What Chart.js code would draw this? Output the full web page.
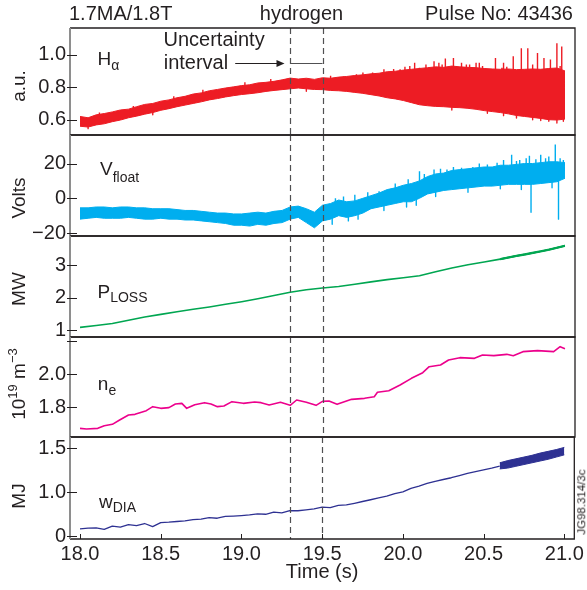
<!DOCTYPE html>
<html><head><meta charset="utf-8">
<script src="https://cdn.jsdelivr.net/npm/chart.js@4.4.1/dist/chart.umd.min.js"></script>
<style>
html,body{margin:0;padding:0;background:#fff;}
#wrap{position:relative;width:587px;height:590px;overflow:hidden;font-family:"Liberation Sans",Arial,sans-serif;color:#231f20;}
#wrap canvas{position:absolute;left:0;top:0;}
.t{position:absolute;white-space:nowrap;line-height:1;font-size:20px;}
.lab{position:absolute;white-space:nowrap;line-height:1;font-size:19px;}
.sb{position:relative;font-size:14px;}
.rot{position:absolute;white-space:nowrap;line-height:1;font-size:19px;transform:translate(-50%,-50%) rotate(-90deg);}
.rot sup{font-size:13px;line-height:0;position:relative;top:-1px;}
</style></head>
<body><div id="wrap">
<canvas id="c1" width="587" height="590"></canvas>
<canvas id="c2" width="587" height="590"></canvas>
<canvas id="c3" width="587" height="590"></canvas>
<canvas id="c4" width="587" height="590"></canvas>
<canvas id="c5" width="587" height="590"></canvas>

<div class="t" style="left:69px;top:3px;">1.7MA/1.8T</div>
<div class="t" style="left:301.5px;top:3px;transform:translateX(-50%);">hydrogen</div>
<div class="t" style="right:14px;top:3px;">Pulse No: 43436</div>

<div class="t" style="left:163.5px;top:29.4px;">Uncertainty</div>
<div class="t" style="left:163.7px;top:51.8px;">interval</div>

<div class="lab" style="left:97.5px;top:49.2px;">H<span class="sb" style="top:4.4px;">α</span></div>
<div class="lab" style="left:100px;top:158.9px;">V<span class="sb" style="top:6.7px;">float</span></div>
<div class="lab" style="left:97.5px;top:281.9px;">P<span class="sb" style="top:3.7px;">LOSS</span></div>
<div class="lab" style="left:97.8px;top:373.9px;">n<span class="sb" style="top:5px;">e</span></div>
<div class="lab" style="left:99px;top:491.6px;">w<span class="sb" style="top:4.3px;">DIA</span></div>

<div class="rot" style="left:18px;top:86px;">a.u.</div>
<div class="rot" style="left:18px;top:198px;">Volts</div>
<div class="rot" style="left:18px;top:289px;">MW</div>
<div class="rot" style="left:18px;top:384px;">10<sup>19</sup> m<sup>−3</sup></div>
<div class="rot" style="left:18px;top:496px;">MJ</div>
<div class="rot" style="left:582px;top:502px;font-size:11.5px;">JG98.314/3c</div>
</div>
<script>
// ---------- data ----------
const xTicks = [18.0, 18.5, 19.0, 19.5, 20.0, 20.5, 21.0];
const xLabels = ['18.0', '18.5', '19.0', '19.5', '20.0', '20.5', '21.0'];
const markTimes = [19.3, 19.5];           // dashed "uncertainty interval" lines
const arrowTimes = [18.96, 19.265];        // arrow of the "Uncertainty interval" note
const noteLevel = 0.948;                   // Hα units

const t05 = [18.00,18.05,18.10,18.15,18.20,18.25,18.30,18.35,18.40,18.45,18.50,18.55,18.60,18.65,18.70,18.75,18.80,18.85,18.90,18.95,
  19.00,19.05,19.10,19.15,19.20,19.25,19.30,19.35,19.40,19.45,19.50,19.55,19.60,19.65,19.70,19.75,19.80,19.85,19.90,19.95,
  20.00,20.05,20.10,20.15,20.20,20.25,20.30,20.35,20.40,20.45,20.50,20.55,20.60,20.65,20.70,20.75,20.80,20.85,20.90,20.95,21.00];

// H-alpha (a.u.) noisy band: upper / lower envelope + spikes
const haUpper = [.620,.612,.630,.638,.648,.660,.665,.680,.694,.700,.714,.722,.735,.744,.758,.765,.778,.786,.795,.802,
  .810,.815,.826,.830,.836,.845,.856,.850,.855,.848,.858,.855,.862,.866,.872,.876,.882,.886,.895,.898,
  .905,.910,.915,.920,.925,.922,.930,.925,.922,.920,.915,.912,.910,.912,.908,.910,.912,.910,.915,.918,.900];
const haLower = [.560,.555,.568,.575,.588,.598,.612,.622,.634,.644,.658,.668,.680,.690,.700,.710,.722,.730,.740,.748,
  .755,.760,.766,.774,.780,.785,.790,.795,.790,.786,.785,.780,.778,.774,.768,.762,.754,.746,.735,.728,
  .718,.705,.692,.686,.682,.680,.676,.674,.670,.664,.656,.650,.644,.636,.626,.620,.614,.608,.600,.598,.604];
const haSpikeT    = [18.12,18.33,18.58,18.76,19.02,19.18,19.55,19.63,19.71,19.75,19.81,19.88,19.94,19.98,20.01,20.04,20.07,20.10,20.14,20.19,20.22,20.24,20.26,20.31,20.36,20.39,
  20.41,20.45,20.47,20.49,20.57,20.61,20.62,20.64,20.68,20.73,20.77,20.80,20.83,20.87,20.91,20.95,20.97,20.98,
  18.05,18.45,19.40,20.30,20.52,20.62,20.70,20.80,20.85,20.90,20.95,20.99];
const haSpikeBase = [0.60,0.64,0.70,0.74,0.78,0.80,0.83,0.83,0.84,0.85,0.85,0.86,0.86,0.87,0.87,0.87,0.88,0.88,0.88,0.88,0.88,0.88,0.88,0.88,0.88,0.88,
  0.88,0.88,0.88,0.88,0.88,0.88,0.88,0.88,0.88,0.88,0.88,0.88,0.88,0.88,0.88,0.88,0.88,0.88,
  0.58,0.66,0.80,0.70,0.68,0.66,0.65,0.64,0.63,0.62,0.62,0.62];
const haSpikeTip  = [0.645,0.685,0.745,0.785,0.83,0.85,0.87,0.865,0.88,0.89,0.89,0.91,0.912,0.91,0.925,0.93,0.95,0.92,0.94,0.96,0.95,0.94,0.977,0.98,0.95,0.94,
  0.94,0.95,0.95,0.93,0.98,0.92,0.95,0.925,0.99,1.04,1.04,0.94,1.01,0.98,0.97,1.07,0.93,1.05,
  0.545,0.63,0.775,0.66,0.64,0.625,0.61,0.60,0.595,0.59,0.58,0.59];

// V float (Volts) noisy band
const vfUpper = [-5.5,-5.5,-5.0,-5.0,-5.5,-5.0,-5.0,-5.5,-5.5,-6.0, -6.0,-6.0,-6.5,-7.0,-7.0,-7.5,-8.0,-8.5,-8.5,-9.0,
  -9.0,-8.5,-8.0,-8.5,-7.5,-7.0,-5.0,-4.5,-6.0,-8.0, -4.0,-3.0,-1.0,-2.0,-1.5,0.0,1.5,3.0,5.0,6.0,
  7.5,8.5,10.0,12.5,14.0,14.5,16.0,16.5,17.0,17.5, 18.0,18.0,19.0,19.0,19.5,20.0,20.0,20.5,21.0,21.0,20.5];
const vfLower = [-12.0,-11.5,-11.0,-11.5,-11.5,-11.5,-11.0,-11.5,-12.0,-12.0, -11.5,-12.0,-12.0,-12.5,-12.5,-13.0,-13.5,-14.0,-14.5,-15.5,
  -15.5,-16.0,-15.0,-15.5,-14.5,-14.0,-12.0,-11.0,-14.0,-17.0, -13.0,-12.0,-10.0,-11.0,-10.0,-8.5,-6.0,-5.0,-4.0,-3.0,
  -2.0,-2.0,0.0,2.5,3.5,4.5,5.0,5.5,6.0,6.5, 7.0,7.0,7.5,8.0,8.0,8.0,8.0,8.5,9.0,9.5,11.5];
const vfSpikeT    = [19.58,19.63,19.70,19.78,19.85,19.95,20.03,20.10,20.13,20.19,20.23,20.27,20.31,20.36,20.43,20.47,20.52,20.58,20.62,20.67,
  20.70,20.72,20.76,20.78,20.82,20.85,20.88,20.90,20.94,20.97,20.99,
  19.56,19.66,19.72,19.88,20.02,20.08,20.20,20.40,20.60,20.73,20.92,20.79,20.96];
const vfSpikeBase = [-4,-3,-2,-1,0,3,5,8,9,10,11,12,13,14,14,15,15,15,16,16,
  16,16,16,16,16,16,16,16,16,16,16,
  -10,-8,-7,-3,0,1,5,8,10,10,12,12,12];
const vfSpikeTip  = [0,1,2,3.5,4,8.5,11,15.5,14,16.5,17,16.5,18,17.5,18,20,19.5,20.5,22,25,
  21.5,22,23,24.5,22.5,25,23,24,31,23,22,
  -15,-13,-12,-7,-5,-4,1,3.5,5.5,5,6,-8,-12];

// P LOSS (MW)
const pT = [18.0,18.1,18.2,18.3,18.4,18.5,18.6,18.7,18.8,18.9,19.0,19.1,19.2,19.3,19.4,19.5,19.6,19.7,19.8,19.9,
  20.0,20.1,20.2,20.3,20.4,20.5,20.6,20.7,20.8,20.9,21.0];
const pV = [1.08,1.14,1.20,1.30,1.40,1.48,1.56,1.64,1.71,1.79,1.87,1.96,2.06,2.16,2.24,2.29,2.34,2.41,2.48,2.55,
  2.61,2.67,2.79,2.91,3.01,3.09,3.18,3.28,3.37,3.47,3.59];
const bandT = [20.60,20.65,20.70,20.75,20.80,20.85,20.90,20.95,21.00];
const pUpper = [3.20,3.25,3.30,3.345,3.395,3.44,3.49,3.55,3.61];
const pLower = [3.16,3.21,3.26,3.30,3.35,3.40,3.45,3.51,3.57];

// n_e (10^19 m^-3)
const neT = [18.00,18.04,18.11,18.15,18.20,18.245,18.30,18.34,18.41,18.45,18.50,18.55,18.59,18.63,18.66,18.71,18.77,18.81,18.85,18.89,
  18.94,19.01,19.08,19.12,19.17,19.24,19.30,19.34,19.40,19.46,19.50,19.54,19.59,19.68,19.76,19.82,19.84,19.91,19.98,20.05,
  20.12,20.16,20.23,20.28,20.35,20.44,20.49,20.56,20.64,20.68,20.74,20.83,20.93,20.97,21.00];
const neV = [1.674,1.670,1.674,1.690,1.698,1.724,1.754,1.758,1.780,1.804,1.794,1.798,1.820,1.824,1.794,1.816,1.828,1.820,1.804,1.808,
  1.834,1.824,1.832,1.828,1.814,1.830,1.812,1.844,1.830,1.812,1.836,1.838,1.818,1.848,1.854,1.864,1.890,1.900,1.934,1.974,
  2.008,2.044,2.054,2.084,2.098,2.094,2.114,2.110,2.118,2.110,2.134,2.140,2.134,2.164,2.152];

// W DIA (MJ)
const wT = [18.00,18.05,18.10,18.15,18.20,18.25,18.30,18.35,18.40,18.45,18.50,18.55,18.60,18.65,18.70,18.75,18.80,18.85,18.90,18.95,
  19.00,19.05,19.10,19.15,19.20,19.25,19.30,19.35,19.40,19.45,19.50,19.55,19.60,19.65,19.70,19.75,19.80,19.85,19.90,19.95,
  20.00,20.05,20.10,20.15,20.20,20.25,20.30,20.35,20.40,20.45,20.50,20.55,20.60];
const wV = [.585,.592,.596,.578,.615,.605,.632,.622,.645,.610,.655,.660,.668,.676,.688,.695,.712,.705,.725,.730,
  .735,.742,.755,.750,.775,.765,.792,.790,.800,.812,.832,.825,.850,.856,.875,.895,.915,.935,.955,.985,
  1.005,1.045,1.070,1.100,1.125,1.145,1.165,1.190,1.215,1.235,1.255,1.275,1.298];
const wUpper = [1.335,1.36,1.38,1.40,1.42,1.445,1.465,1.485,1.51];
const wLower = [1.265,1.275,1.295,1.315,1.335,1.355,1.375,1.40,1.425];

// y axes: tick values + labels
const haTicks = [0.6, 0.8, 1.0], haLabels = ['0.6', '0.8', '1.0'];
const vfTicks = [-20, 0, 20],    vfLabels = ['\u221220', '0', '20'];
const pTicks  = [1, 2, 3],       pLabels  = ['1', '2', '3'];
const neTicks = [1.8, 2.0, 2.2], neLabels = ['1.8', '2.0', ''];
const wTicks  = [0.5, 1.0, 1.5], wLabels  = ['0', '1.0', '1.5'];

// ---------- helpers ----------
const INK = '#231f20';
const FONT = { family: '"Liberation Sans", Arial, sans-serif', size: 20 };
const pts = (xs, ys) => xs.map((x, i) => ({ x: x, y: ys[i] }));
function spikes(ts, bases, tips) {
  const out = [];
  ts.forEach((t, i) => { out.push({ x: t, y: bases[i] }, { x: t, y: tips[i] }, { x: t, y: null }); });
  return out;
}
function band(xs, up, lo, color, w) {
  return [
    { data: pts(xs, up), borderColor: color, backgroundColor: color, borderWidth: w, fill: '+1' },
    { data: pts(xs, lo), borderColor: color, backgroundColor: color, borderWidth: w, fill: false }
  ];
}
function line(xs, ys, color, w) {
  return { data: pts(xs, ys), borderColor: color, borderWidth: w, fill: false };
}

const framePlugin = {
  id: 'frame',
  afterDatasetsDraw(chart, args, opts) {
    const { ctx, chartArea: a, scales } = chart;
    const x = scales.x, y = scales.y;
    ctx.save();
    // dashed interval lines
    ctx.strokeStyle = '#505052'; ctx.lineWidth = 1.2; ctx.setLineDash([6, 4]);
    markTimes.forEach(v => {
      const px = Math.round(x.getPixelForValue(v)) + 0.5;
      ctx.beginPath(); ctx.moveTo(px, a.top); ctx.lineTo(px, a.bottom); ctx.stroke();
    });
    ctx.setLineDash([]);
    // annotation (panel 1)
    if (opts.note) {
      const yy = Math.round(y.getPixelForValue(noteLevel)) + 0.5;
      const x0 = x.getPixelForValue(arrowTimes[0]), x1 = x.getPixelForValue(arrowTimes[1]);
      ctx.strokeStyle = INK; ctx.fillStyle = INK; ctx.lineWidth = 1.2;
      ctx.beginPath(); ctx.moveTo(x0, yy); ctx.lineTo(x1 - 6, yy); ctx.stroke();
      ctx.beginPath(); ctx.moveTo(x1, yy); ctx.lineTo(x1 - 8, yy - 3.5); ctx.lineTo(x1 - 8, yy + 3.5); ctx.closePath(); ctx.fill();
      ctx.strokeStyle = '#505052';
      ctx.beginPath(); ctx.moveTo(x.getPixelForValue(markTimes[0]), yy); ctx.lineTo(x.getPixelForValue(markTimes[1]), yy); ctx.stroke();
    }
    // frame
    ctx.strokeStyle = INK; ctx.lineWidth = 1.3;
    ctx.beginPath(); ctx.moveTo(a.left, a.top); ctx.lineTo(a.right, a.top); ctx.lineTo(a.right, a.bottom); ctx.lineTo(a.left, a.bottom); ctx.stroke();
    ctx.strokeStyle = '#8e8e8e'; ctx.lineWidth = 2;
    ctx.beginPath(); ctx.moveTo(a.left, a.top); ctx.lineTo(a.left, a.bottom); ctx.stroke();
    // y ticks (crossing the left frame)
    ctx.strokeStyle = INK; ctx.lineWidth = 1;
    y.ticks.forEach(t => {
      const py = Math.round(y.getPixelForValue(t.value)) + 0.5;
      ctx.beginPath(); ctx.moveTo(a.left - 3, py); ctx.lineTo(a.left + 7, py); ctx.stroke();
    });
    // x ticks (inward, bottom panel)
    if (opts.xticks) {
      x.ticks.forEach(t => {
        const px = Math.round(x.getPixelForValue(t.value)) + 0.5;
        ctx.beginPath(); ctx.moveTo(px, a.bottom); ctx.lineTo(px, a.bottom - 5); ctx.stroke();
      });
    }
    ctx.restore();
  }
};

function makePanel(id, p) {
  const last = !!p.xAxis;
  return new Chart(document.getElementById(id), {
    type: 'line',
    data: { datasets: p.datasets },
    options: {
      responsive: false, animation: false, events: [], devicePixelRatio: 1,
      layout: { padding: { top: p.top, bottom: last ? 0 : 590 - p.bottom, left: 0, right: 12 } },
      plugins: { legend: { display: false }, tooltip: { enabled: false }, frame: { xticks: last, note: !!p.note } },
      elements: { point: { radius: 0 }, line: { tension: 0, borderJoinStyle: 'round' } },
      spanGaps: false,
      scales: {
        x: {
          type: 'linear', min: 17.938, max: 21.062, display: last,
          afterFit: s => { s.height = last ? 51 : 0; },
          afterBuildTicks: s => { s.ticks = xTicks.map(v => ({ value: v })); },
          ticks: { autoSkip: false, maxRotation: 0, padding: 3, font: FONT, color: INK, callback: (v, i) => xLabels[i] },
          grid: { display: true, drawOnChartArea: false, drawTicks: false },
          border: { display: false },
          title: { display: true, text: 'Time (s)', font: FONT, color: INK, padding: { top: 0, bottom: 6 } }
        },
        y: {
          type: 'linear', min: p.min, max: p.max,
          afterFit: s => { s.width = 70; },
          afterBuildTicks: s => { s.ticks = p.ticks.map(v => ({ value: v })); },
          ticks: { padding: 4, font: FONT, color: INK, callback: (v, i) => p.labels[i] },
          grid: { display: true, drawOnChartArea: false, drawTicks: false },
          border: { display: false }
        }
      }
    },
    plugins: [framePlugin]
  });
}

const RED = '#ed1c24', CYAN = '#00aeef', GREEN = '#00a651', MAGENTA = '#ec008c', NAVY = '#2e3192';

makePanel('c1', { top: 28, bottom: 135, min: 0.506, max: 1.164, ticks: haTicks, labels: haLabels, note: true,
  datasets: [...band(t05, haUpper, haLower, RED, 1),
    { data: spikes(haSpikeT, haSpikeBase, haSpikeTip), borderColor: RED, borderWidth: 1.4, fill: false }] });

makePanel('c2', { top: 135, bottom: 236, min: -21.7, max: 36.4, ticks: vfTicks, labels: vfLabels,
  datasets: [...band(t05, vfUpper, vfLower, CYAN, 1),
    { data: spikes(vfSpikeT, vfSpikeBase, vfSpikeTip), borderColor: CYAN, borderWidth: 1.4, fill: false }] });

makePanel('c3', { top: 236, bottom: 337, min: 0.785, max: 3.892, ticks: pTicks, labels: pLabels,
  datasets: [line(pT, pV, GREEN, 1.6), ...band(bandT, pUpper, pLower, GREEN, 1)] });

makePanel('c4', { top: 337, bottom: 437, min: 1.622, max: 2.222, ticks: neTicks, labels: neLabels,
  datasets: [line(neT, neV, MAGENTA, 1.6)] });

makePanel('c5', { top: 437, bottom: 539, min: 0.469, max: 1.628, ticks: wTicks, labels: wLabels, xAxis: true,
  datasets: [line(wT, wV, NAVY, 1.3), ...band(bandT, wUpper, wLower, NAVY, 1)] });
</script>
</body></html>
